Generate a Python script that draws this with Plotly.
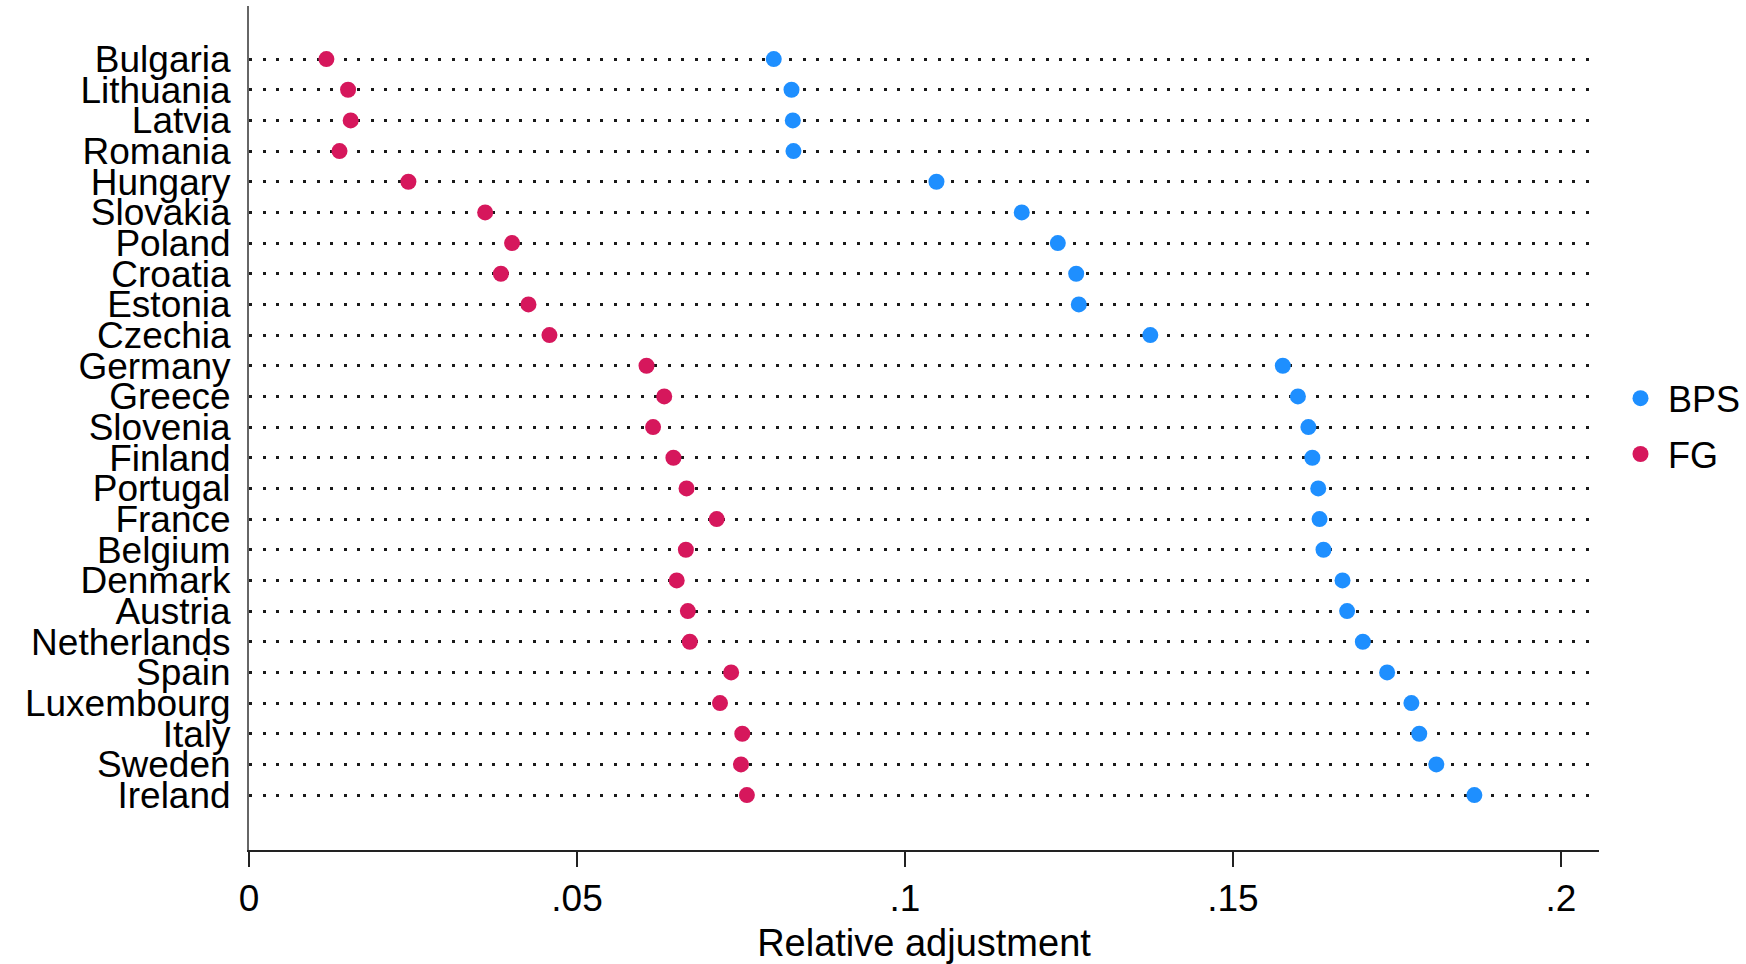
import plotly.graph_objects as go

countries = ["Bulgaria", "Lithuania", "Latvia", "Romania", "Hungary", "Slovakia",
             "Poland", "Croatia", "Estonia", "Czechia", "Germany", "Greece",
             "Slovenia", "Finland", "Portugal", "France", "Belgium", "Denmark",
             "Austria", "Netherlands", "Spain", "Luxembourg", "Italy", "Sweden",
             "Ireland"]

bps = [0.0800, 0.0827, 0.0829, 0.0830, 0.1048, 0.1178, 0.1233, 0.1261, 0.1265,
       0.1374, 0.1576, 0.1599, 0.1615, 0.1621, 0.1630, 0.1632, 0.1638, 0.1667,
       0.1674, 0.1698, 0.1735, 0.1772, 0.1784, 0.1810, 0.1868]

fg = [0.0118, 0.0151, 0.0155, 0.0138, 0.0243, 0.0360, 0.0401, 0.0384, 0.0426,
      0.0458, 0.0606, 0.0633, 0.0616, 0.0647, 0.0667, 0.0713, 0.0666, 0.0652,
      0.0669, 0.0672, 0.0735, 0.0718, 0.0752, 0.0750, 0.0759]

x_ticks = [0, 0.05, 0.1, 0.15, 0.2]
x_tick_labels = ["0", ".05", ".1", ".15", ".2"]

BLUE = "#1E8FFF"
RED = "#D6175C"
FONT = "Liberation Sans, Arial, sans-serif"

W, H = 1746, 964
ML, MR = 249, 0
PLOT_RIGHT = 1599
x_dom_end = (PLOT_RIGHT - ML) / (W - ML - MR)

fig = go.Figure()
fig.add_trace(go.Scatter(
    x=bps, y=countries, mode="markers", name="BPS", legendgroup="a",
    marker=dict(color=BLUE, size=16, line=dict(width=0)),
))
fig.add_trace(go.Scatter(
    x=fg, y=countries, mode="markers", name="FG", legendgroup="b",
    marker=dict(color=RED, size=16, line=dict(width=0)),
))

n = len(countries)
fig.update_layout(
    width=W, height=H,
    margin=dict(l=ML, r=MR, t=6, b=114),
    paper_bgcolor="white", plot_bgcolor="white",
    font=dict(family=FONT, color="black", size=34),
    showlegend=True,
    legend=dict(
        x=1.0, xanchor="right", y=0.502, yanchor="middle",
        font=dict(size=36, family=FONT),
        itemwidth=45,
        tracegroupgap=6, bgcolor="rgba(0,0,0,0)",
    ),
    xaxis=dict(
        domain=[0, x_dom_end],
        range=[0, 0.2058],
        tickvals=x_ticks, ticktext=x_tick_labels,
        ticks="outside", ticklen=15, tickwidth=1.5, tickcolor="#222",
        showline=True, linecolor="#222", linewidth=1.5,
        showgrid=False, zeroline=False,
        tickfont=dict(size=37, family=FONT),
        title=dict(text="Relative adjustment", font=dict(size=38, family=FONT), standoff=12),
    ),
    yaxis=dict(
        type="category",
        categoryorder="array", categoryarray=countries[::-1],
        tickmode="array", tickvals=countries, ticktext=countries,
        range=[-1.79, n - 1 + 1.73],
        showline=True, linecolor="#666", linewidth=2,
        ticks="", ticklabelstandoff=9,
        showgrid=True, gridcolor="#1a1a1a", gridwidth=3, griddash="3px,10.5px",
        zeroline=False,
        tickfont=dict(size=37, family=FONT),
    ),
)

fig.write_html("out.html")
